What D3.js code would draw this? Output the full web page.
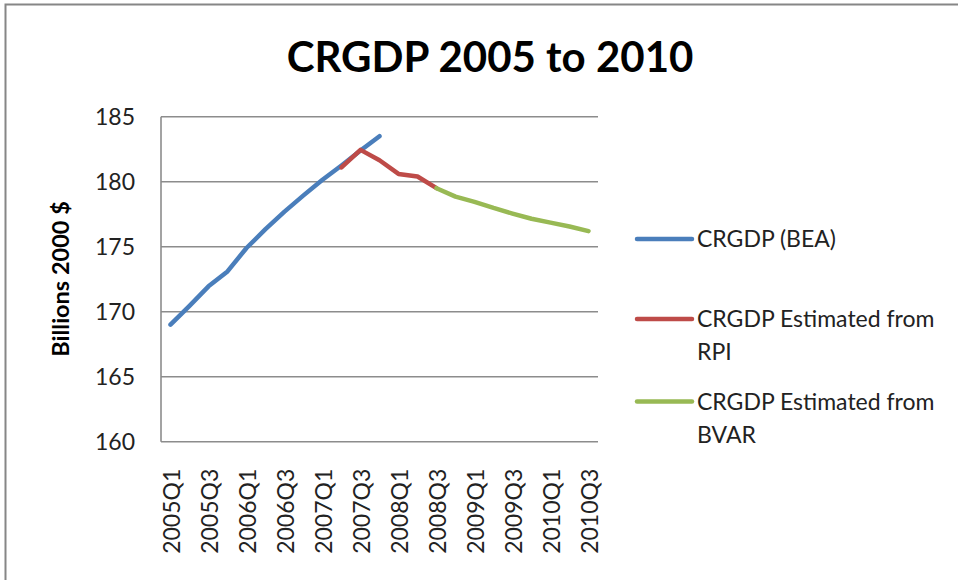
<!DOCTYPE html>
<html>
<head>
<meta charset="utf-8">
<script src="https://cdn.jsdelivr.net/npm/d3@7"></script>
<style>
  html, body { margin: 0; padding: 0; background: #fff; }
  svg { display: block; font-family: Lato, "Open Sans", sans-serif; }
</style>
</head>
<body>
<svg id="chart" width="958" height="580"></svg>
<script>
const quarters = [
  "2005Q1","2005Q2","2005Q3","2005Q4",
  "2006Q1","2006Q2","2006Q3","2006Q4",
  "2007Q1","2007Q2","2007Q3","2007Q4",
  "2008Q1","2008Q2","2008Q3","2008Q4",
  "2009Q1","2009Q2","2009Q3","2009Q4",
  "2010Q1","2010Q2","2010Q3"
];
const tickLabels = ["2005Q1","2005Q3","2006Q1","2006Q3","2007Q1","2007Q3","2008Q1","2008Q3","2009Q1","2009Q3","2010Q1","2010Q3"];
const yTicks = [160, 165, 170, 175, 180, 185];

const seriesNames = ["CRGDP (BEA)", "CRGDP Estimated from RPI", "CRGDP Estimated from BVAR"];
const beaValues = [169.0, 170.45, 171.95, 173.1, 174.9, 176.35, 177.7, 178.95, 180.15, 181.25, 182.4, 183.5,
  null, null, null, null, null, null, null, null, null, null, null];
const rpiValues = [null, null, null, null, null, null, null, null, null, 181.1, 182.45, 181.65,
  180.6, 180.4, 179.5, null, null, null, null, null, null, null, null];
const bvarValues = [null, null, null, null, null, null, null, null, null, null, null, null,
  null, null, 179.5, 178.85, 178.45, 177.98, 177.55, 177.15, 176.85, 176.55, 176.2];
const colors = ["#4A7EBB", "#BE4B48", "#98B954"];

const svg = d3.select("#chart");
const plot = { left: 161, right: 598, top: 116.7, bottom: 441.7 };

// outer chart border
svg.append("path")
  .attr("d", `M5.5,580 V4.5 H958`)
  .attr("fill", "none").attr("stroke", "#868686").attr("stroke-width", 2);

const x = d3.scaleBand().domain(quarters).range([plot.left, plot.right]).padding(0);
const y = d3.scaleLinear().domain([160, 185]).range([plot.bottom, plot.top]);

// gridlines
svg.append("g").selectAll("line").data(yTicks.slice(1)).join("line")
  .attr("x1", plot.left).attr("x2", plot.right)
  .attr("y1", d => y(d)).attr("y2", d => y(d))
  .attr("stroke", "#8c8c8c").attr("stroke-width", 1.6);

// axes lines
svg.append("line").attr("x1", plot.left).attr("x2", plot.left)
  .attr("y1", plot.top).attr("y2", plot.bottom)
  .attr("stroke", "#8c8c8c").attr("stroke-width", 1.6);
svg.append("line").attr("x1", plot.left).attr("x2", plot.right)
  .attr("y1", plot.bottom).attr("y2", plot.bottom)
  .attr("stroke", "#8c8c8c").attr("stroke-width", 1.6);

// y axis labels
const yAxis = d3.axisLeft(y).tickValues(yTicks).tickSize(0).tickPadding(26);
const gy = svg.append("g").attr("transform", `translate(${plot.left},0)`).call(yAxis);
gy.select(".domain").remove();
gy.selectAll("text").attr("font-size", 23).attr("font-family", "Lato, sans-serif").attr("fill", "#222");

// x axis labels (rotated)
const xAxis = d3.axisBottom(x).tickValues(tickLabels).tickSize(0).tickPadding(0);
const gx = svg.append("g").attr("transform", `translate(0,${plot.bottom})`).call(xAxis);
gx.select(".domain").remove();
gx.selectAll("text")
  .attr("font-size", 23).attr("font-family", "Lato, sans-serif").attr("fill", "#222")
  .attr("transform", "rotate(-90)")
  .attr("text-anchor", "end")
  .attr("x", -27).attr("y", 1).attr("dy", "0.36em");

// lines
const line = d3.line()
  .defined(d => d != null)
  .x((d, i) => x(quarters[i]) + x.bandwidth() / 2)
  .y(d => y(d));
const allSeries = [beaValues, rpiValues, bvarValues];
svg.append("g").selectAll("path").data(allSeries).join("path")
  .attr("d", d => line(d))
  .attr("fill", "none")
  .attr("stroke", (d, i) => colors[i])
  .attr("stroke-width", 4.5)
  .attr("stroke-linecap", "round")
  .attr("stroke-linejoin", "round");

// title
svg.append("text").attr("x", 490).attr("y", 72).attr("text-anchor", "middle")
  .attr("font-size", 42).attr("font-weight", "bold").attr("fill", "#000")
  .text("CRGDP 2005 to 2010");

// y-axis title
svg.append("text").attr("transform", "translate(69,279) rotate(-90)")
  .attr("text-anchor", "middle").attr("font-size", 23.5).attr("font-weight", "bold").attr("fill", "#000")
  .text("Billions 2000 $");

// legend
const legendItems = [
  { lines: ["CRGDP (BEA)"], y: 239 },
  { lines: ["CRGDP Estimated from", "RPI"], y: 319 },
  { lines: ["CRGDP Estimated from", "BVAR"], y: 401.5 }
];
const lg = svg.append("g");
legendItems.forEach((item, i) => {
  lg.append("line").attr("x1", 637).attr("x2", 692).attr("y1", item.y).attr("y2", item.y)
    .attr("stroke", colors[i]).attr("stroke-width", 4.5).attr("stroke-linecap", "round");
  const t = lg.append("text").attr("x", 697).attr("y", item.y)
    .attr("font-size", 23).attr("fill", "#222");
  item.lines.forEach((s, k) => {
    t.append("tspan").attr("x", 697).attr("dy", k === 0 ? "0.36em" : 33).text(s);
  });
});
</script>
</body>
</html>
